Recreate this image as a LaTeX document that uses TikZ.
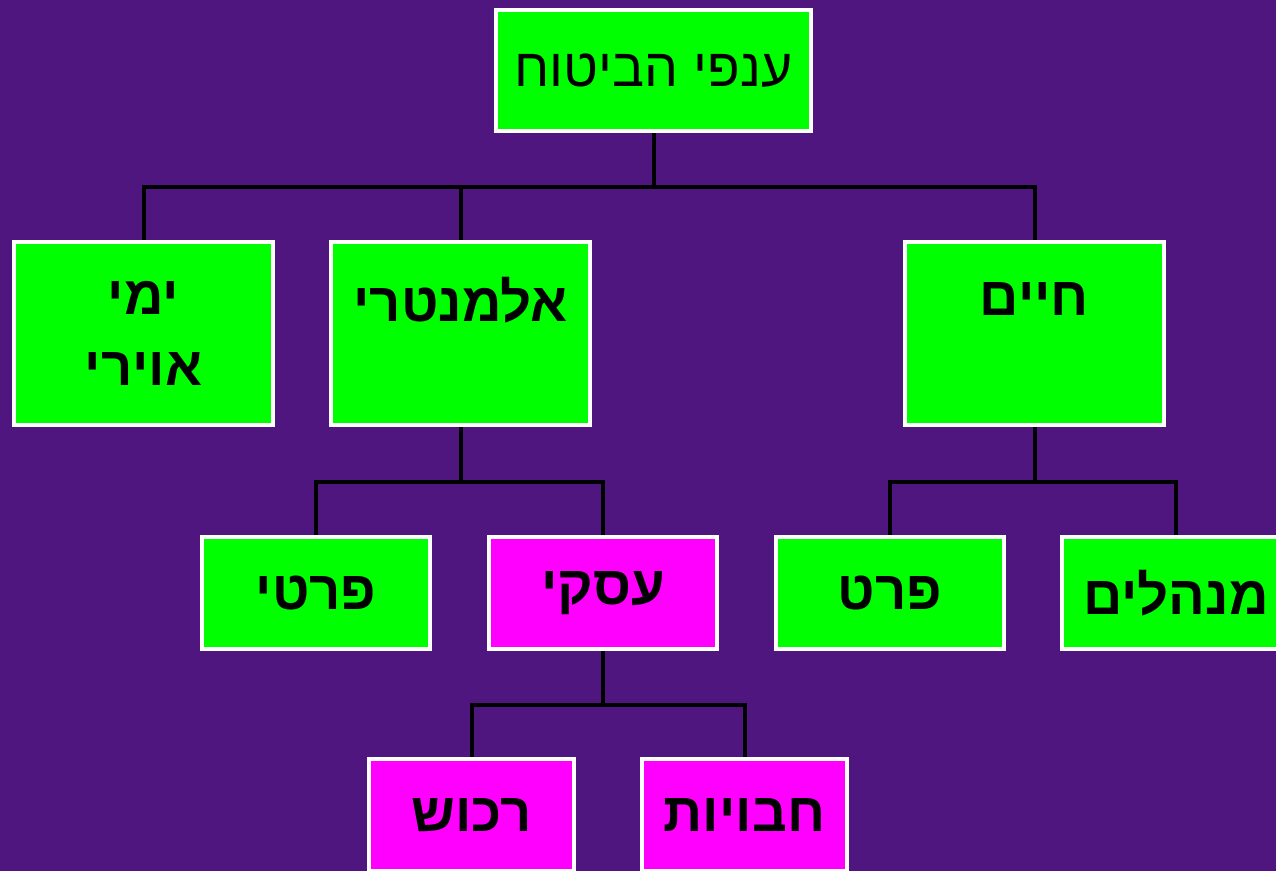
\documentclass[tikz,border=0pt]{standalone}
\usepackage{fontspec}
\newfontfamily\hebfont[Script=Hebrew]{Liberation Sans}
\TeXXeTstate=1
\newcommand{\heb}[1]{{\hebfont\beginR #1\endR}}
\definecolor{bgpurple}{RGB}{78,22,126}
\definecolor{boxgreen}{RGB}{0,255,0}
\definecolor{boxpink}{RGB}{255,0,255}

\begin{document}
\begin{tikzpicture}[x=0.02cm, y=-0.02cm,
  box/.style={draw=white, line width=0.08cm, align=center, inner sep=0pt,
    font=\fontsize{31}{38}\selectfont\bfseries},
  tallbox/.style={box, fill=boxgreen, minimum width=5.18cm, minimum height=3.66cm},
  smallbox/.style={box, minimum width=4.56cm, minimum height=2.24cm},
  link/.style={line width=0.08cm, black}]
\fill[bgpurple] (0,0) rectangle (1276,871);
\useasboundingbox (0,0) rectangle (1276,871);

% top level
\node[box, fill=boxgreen, minimum width=6.3cm, minimum height=2.42cm,
  font=\fontsize{30.5}{38}\selectfont] (root) at (653.5,70.5) {\heb{ענפי הביטוח}};

% second level
\node[tallbox] (yemi) at (143.5,333.5) {\heb{ימי}\\[2pt]\heb{אוירי}};
\node[tallbox] (elem) at (460.5,333.5) {\heb{אלמנטרי}\\[-10pt]\strut};
\node[tallbox] (haim) at (1034.5,333.5) {\heb{חיים}\\[-10pt]\strut};

% third level
\node[smallbox, fill=boxgreen] (prati) at (316,593) {\heb{פרטי}};
\node[smallbox, fill=boxpink] (iski) at (603,593) {\heb{עסקי}};
\node[smallbox, fill=boxgreen] (prat) at (890,593) {\heb{פרט}};
\node[smallbox, fill=boxgreen] (menah) at (1176,593) {\heb{מנהלים}};

% fourth level
\node[box, fill=boxpink, minimum width=4.1cm, minimum height=2.24cm] (rechush) at (471.5,815) {\heb{רכוש}};
\node[box, fill=boxpink, minimum width=4.1cm, minimum height=2.24cm] (chav) at (744.5,815) {\heb{חבויות}};

% connectors
\coordinate (busA) at (653.5,187);
\coordinate (busB) at (460.5,482);
\coordinate (busC) at (1034.5,482);
\coordinate (busD) at (603,705);
\draw[link] (root) -- (busA);
\draw[link] (yemi.north) |- (busA) -| (haim.north);
\draw[link] (elem.north) -- (elem.north |- busA);
\draw[link] (elem) -- (busB);
\draw[link] (prati.north) |- (busB) -| (iski.north);
\draw[link] (haim) -- (busC);
\draw[link] (prat.north) |- (busC) -| (menah.north);
\draw[link] (iski) -- (busD);
\draw[link] (rechush.north) |- (busD) -| (chav.north);
\end{tikzpicture}
\end{document}
